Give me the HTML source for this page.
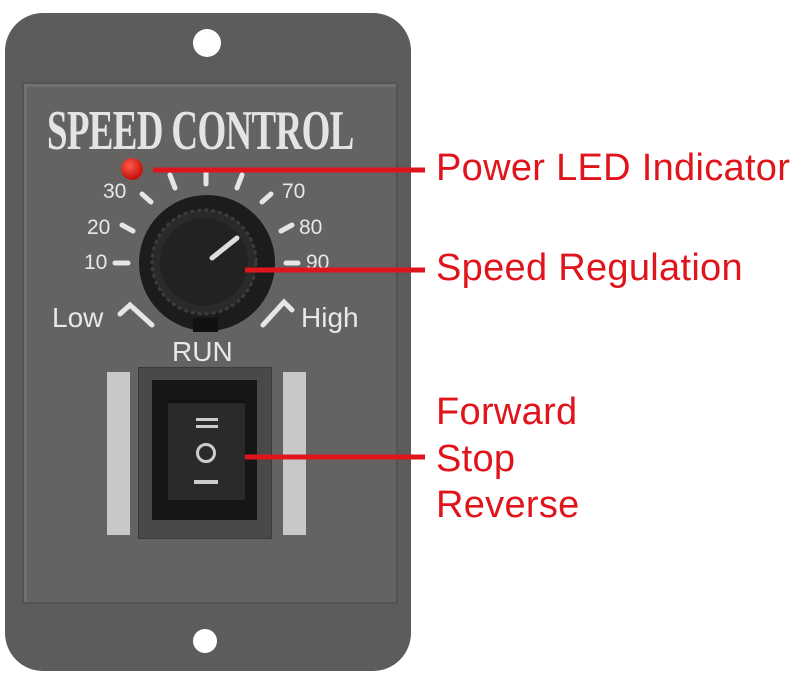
<!DOCTYPE html>
<html><head><style>
body{margin:0;background:#fff;width:800px;height:682px;overflow:hidden;position:relative;font-family:"Liberation Sans",sans-serif}
.a{position:absolute}
.lbl{position:absolute;color:#e0141b;font-size:38px;left:436px;letter-spacing:0.3px}
.n{position:absolute;color:#e8e8e8;font-size:21px}
</style></head><body>
<div class="a" style="left:5px;top:13px;width:406px;height:658px;background:#5d5c5b;border-radius:38px"></div>
<div class="a" style="left:22px;top:82px;width:372px;height:518px;background:#646362;border:2px solid #545352;box-shadow:inset 3px 3px 0 #727170"></div>
<div class="a" style="left:193px;top:29px;width:28px;height:28px;border-radius:50%;background:#fff"></div>
<div class="a" style="left:193px;top:629px;width:24px;height:24px;border-radius:50%;background:#fff"></div>
<div class="a" style="left:47px;top:99px;font-family:'Liberation Serif',serif;font-weight:bold;font-size:56px;color:#e4e4e4;transform:scaleX(0.66);transform-origin:left;white-space:nowrap;letter-spacing:-1px">SPEED CONTROL</div>
<div class="a" style="left:121px;top:158px;width:22px;height:22px;border-radius:50%;background:radial-gradient(circle at 40% 35%,#ff5a4a,#c4120c 70%)"></div>
<svg class="a" style="left:0;top:0" width="800" height="682">
<g stroke="#e6e6e6" stroke-width="5" stroke-linecap="round" fill="none">
<line x1="115" y1="263" x2="128" y2="263"/><line x1="286" y1="263" x2="298" y2="263"/>
<line x1="122" y1="225" x2="133" y2="231"/><line x1="281" y1="231" x2="292" y2="225"/>
<line x1="142" y1="194" x2="151" y2="202"/><line x1="262" y1="202" x2="271" y2="194"/>
<line x1="170" y1="175" x2="175" y2="188"/><line x1="206" y1="172" x2="206" y2="184"/>
<line x1="242" y1="175" x2="237" y2="188"/>
<polyline points="152,325 130,305 120,314"/><polyline points="263,325 284,302 292,310"/>
</g>
<circle cx="207" cy="263" r="68" fill="#1c1c1c"/>
<circle cx="204" cy="262" r="52" fill="#2a2a2a" stroke="#3c3c3c" stroke-width="3" stroke-dasharray="4 3"/>
<circle cx="204" cy="262" r="44" fill="#222"/>
<rect x="193" y="318" width="25" height="14" fill="#111"/>
<line x1="212" y1="258" x2="237" y2="238" stroke="#ddd" stroke-width="5" stroke-linecap="round"/>
</svg>
<div class="n" style="left:103px;top:180px">30</div><div class="n" style="left:87px;top:216px">20</div><div class="n" style="left:84px;top:251px">10</div>
<div class="n" style="left:282px;top:180px">70</div><div class="n" style="left:299px;top:216px">80</div><div class="n" style="left:306px;top:251px">90</div>
<div class="n" style="left:52px;top:302px;font-size:28px">Low</div>
<div class="n" style="left:301px;top:302px;font-size:28px">High</div>
<div class="n" style="left:172px;top:336px;font-size:28px">RUN</div>
<div class="a" style="left:107px;top:372px;width:23px;height:163px;background:#c8c8c8"></div>
<div class="a" style="left:283px;top:372px;width:23px;height:163px;background:#c8c8c8"></div>
<div class="a" style="left:138px;top:367px;width:132px;height:170px;background:#4a4948;border:1px solid #3a3a3a"></div>
<div class="a" style="left:152px;top:380px;width:105px;height:140px;background:#161616"></div>
<div class="a" style="left:168px;top:400px;width:77px;height:97px;background:#2a2a2a;border-top:3px solid #111"></div>
<div class="a" style="left:196px;top:418px;width:22px;height:3px;background:#ccc"></div>
<div class="a" style="left:196px;top:425px;width:22px;height:3px;background:#ccc"></div>
<div class="a" style="left:196px;top:443px;width:14px;height:14px;border:3px solid #ccc;border-radius:50%"></div>
<div class="a" style="left:194px;top:480px;width:24px;height:4px;background:#ccc"></div>
<svg class="a" style="left:0;top:0" width="800" height="682">
<g stroke="#e0141b" stroke-width="5"><line x1="153" y1="170" x2="425" y2="170"/><line x1="245" y1="270" x2="425" y2="270"/><line x1="245" y1="457" x2="425" y2="457"/></g>
</svg>
<div class="lbl" style="top:147px">Power LED Indicator</div>
<div class="lbl" style="top:247px">Speed Regulation</div>
<div class="lbl" style="top:391px">Forward</div>
<div class="lbl" style="top:438px">Stop</div>
<div class="lbl" style="top:484px">Reverse</div>
</body></html>
